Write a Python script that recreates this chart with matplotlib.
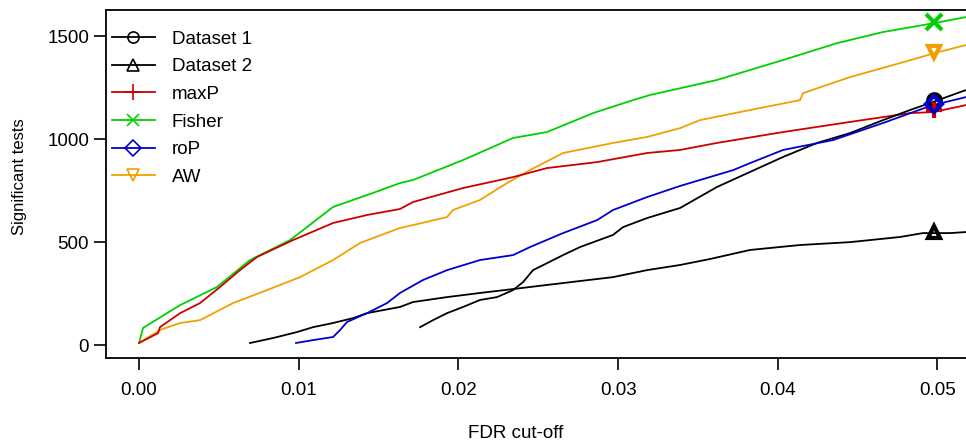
import matplotlib
matplotlib.use("Agg")
import matplotlib.pyplot as plt
from matplotlib.lines import Line2D

plt.rcParams['font.family'] = ['Liberation Sans', 'DejaVu Sans']

# ---- data ----
fisher_x = [0.0, 0.00025, 0.00257, 0.00488, 0.00695, 0.00946, 0.01215, 0.01465, 0.01634, 0.01716,
            0.02029, 0.02342, 0.02555, 0.02843, 0.03093, 0.0320, 0.03619, 0.04033, 0.04371, 0.04659,
            0.04984, 0.05179]
fisher_y = [10, 83, 194, 282, 413, 510, 671, 739, 787, 802, 899, 1006, 1035, 1127, 1190, 1215, 1288,
            1385, 1467, 1521, 1565, 1594]

maxp_x = [0.0, 0.00119, 0.00131, 0.00257, 0.00382, 0.00507, 0.00632, 0.00739, 0.00964, 0.01215,
          0.01428, 0.01634, 0.01716, 0.02029, 0.02342, 0.02555, 0.02868, 0.03181, 0.03388, 0.03619,
          0.04033, 0.04452, 0.04828, 0.04972, 0.05179]
maxp_y = [10, 58, 87, 155, 204, 282, 364, 428, 510, 593, 632, 661, 695, 763, 816, 860, 889, 933, 948,
          982, 1035, 1084, 1127, 1132, 1166]

aw_x = [0.0, 0.00131, 0.00257, 0.00382, 0.00589, 0.00801, 0.01008, 0.01215, 0.01384, 0.01634,
        0.01716, 0.01929, 0.01966, 0.02135, 0.02304, 0.02448, 0.02655, 0.02968, 0.03181, 0.03388,
        0.03513, 0.03826, 0.04139, 0.04158, 0.04452, 0.04765, 0.04984, 0.05179]
aw_y = [10, 73, 107, 121, 204, 267, 330, 413, 496, 569, 583, 622, 656, 705, 787, 850, 933, 982, 1011,
        1054, 1093, 1142, 1190, 1224, 1302, 1370, 1419, 1458]

rop_x = [0.00983, 0.0109, 0.01215, 0.01259, 0.01302, 0.01428, 0.01553, 0.01634, 0.01778, 0.01929,
         0.02135, 0.02342, 0.02448, 0.02655, 0.02868, 0.02968, 0.03181, 0.03388, 0.0372, 0.03826,
         0.04033, 0.04346, 0.04659, 0.04934, 0.04972, 0.05179]
rop_y = [10, 24, 39, 73, 112, 155, 204, 253, 316, 364, 413, 437, 476, 544, 607, 656, 719, 773, 850,
         884, 948, 996, 1079, 1156, 1166, 1205]

ds1_x = [0.0176, 0.01841, 0.01929, 0.02029, 0.02135, 0.02242, 0.02342, 0.02405, 0.02467, 0.02555,
         0.02655, 0.02761, 0.02968, 0.03031, 0.03181, 0.03388, 0.03619, 0.03826, 0.04033, 0.04246,
         0.04452, 0.04659, 0.04828, 0.04972, 0.05141, 0.05179]
ds1_y = [87, 121, 155, 185, 219, 233, 267, 306, 364, 398, 437, 476, 535, 573, 617, 666, 768, 841, 914,
         982, 1030, 1093, 1142, 1181, 1229, 1239]

ds2_x = [0.00695, 0.00839, 0.00989, 0.0109, 0.01215, 0.0134, 0.01428, 0.01634, 0.01716, 0.01929,
         0.02135, 0.02342, 0.02555, 0.02761, 0.02968, 0.03181, 0.03388, 0.03575, 0.03826, 0.04139,
         0.04452, 0.04765, 0.04909, 0.05078, 0.05179]
ds2_y = [10, 34, 63, 87, 107, 131, 155, 185, 209, 233, 253, 272, 292, 311, 330, 364, 389, 418, 462,
         486, 500, 525, 544, 544, 549]

# marker values at FDR = 0.05
marker_x = 0.0498
marker_y = {'Dataset 1': 1192, 'Dataset 2': 548, 'maxP': 1140, 'Fisher': 1572,
            'roP': 1172, 'AW': 1425}

labels = ['Dataset 1', 'Dataset 2', 'maxP', 'Fisher', 'roP', 'AW']
xticks = [0.00, 0.01, 0.02, 0.03, 0.04, 0.05]
xticklabels = ['0.00', '0.01', '0.02', '0.03', '0.04', '0.05']
yticks = [0, 500, 1000, 1500]

series = {
    'Dataset 1': (ds1_x, ds1_y),
    'Dataset 2': (ds2_x, ds2_y),
    'maxP': (maxp_x, maxp_y),
    'Fisher': (fisher_x, fisher_y),
    'roP': (rop_x, rop_y),
    'AW': (aw_x, aw_y),
}
colors = {'Dataset 1': 'black', 'Dataset 2': 'black', 'maxP': '#CD0000', 'Fisher': '#00D000',
          'roP': '#0000CD', 'AW': '#F0A000'}
markers = {'Dataset 1': 'o', 'Dataset 2': '^', 'maxP': '+', 'Fisher': 'x', 'roP': 'D', 'AW': 'v'}
msize = {'Dataset 1': 9, 'Dataset 2': 9, 'maxP': 12, 'Fisher': 11, 'roP': 8, 'AW': 9}

fig = plt.figure(figsize=(9.66, 4.41), dpi=100)
ax = fig.add_axes([0.1094, 0.1882, 0.8906 + 0.01, 0.9773 - 0.1882])

draw_order = ['Fisher', 'AW', 'maxP', 'Dataset 2', 'Dataset 1', 'roP']
for name in draw_order:
    x, y = series[name]
    ax.plot(x, y, color=colors[name], lw=1.3, zorder=2)
for name in ['Dataset 2', 'Dataset 1', 'Fisher', 'AW', 'maxP', 'roP']:
    ax.plot([marker_x], [marker_y[name]], linestyle='none', marker=markers[name],
            markersize=msize[name], markerfacecolor='none', markeredgecolor=colors[name],
            markeredgewidth=3, zorder=3)

ax.set_xlim(-0.00209, 0.05179 + 0.0006)
ax.set_ylim(-63, 1628)

ax.spines['right'].set_visible(False)
for s in ['left', 'top', 'bottom']:
    ax.spines[s].set_linewidth(1.3)

ax.set_xticks(xticks)
ax.set_xticklabels(xticklabels)
ax.set_yticks(yticks)
ax.tick_params(axis='both', direction='out', length=8.5, width=1.2, labelsize=13.5, colors='black')
ax.tick_params(axis='x', pad=8.5)
ax.tick_params(axis='y', pad=3.5)

fig.text(516 / 966, 1 - 433 / 441, 'FDR cut-off', fontsize=13.5, ha='center', va='center')
fig.text(20 / 966, 1 - 177 / 441, 'Significant tests', fontsize=12, rotation=90,
         ha='center', va='center')

handles = [Line2D([0], [0], color=colors[n], lw=1.3, marker=markers[n],
                  markersize=8 if n != 'maxP' else 11, markerfacecolor='none',
                  markeredgecolor=colors[n], markeredgewidth=1.2) for n in labels]
ax.legend(handles, labels, loc='upper left', bbox_to_anchor=(0.007, 0.941), frameon=False,
          fontsize=13.5, borderaxespad=0, borderpad=0, handlelength=2.3, handletextpad=0.9,
          labelspacing=0.56)

fig.savefig('out.png', dpi=100)
